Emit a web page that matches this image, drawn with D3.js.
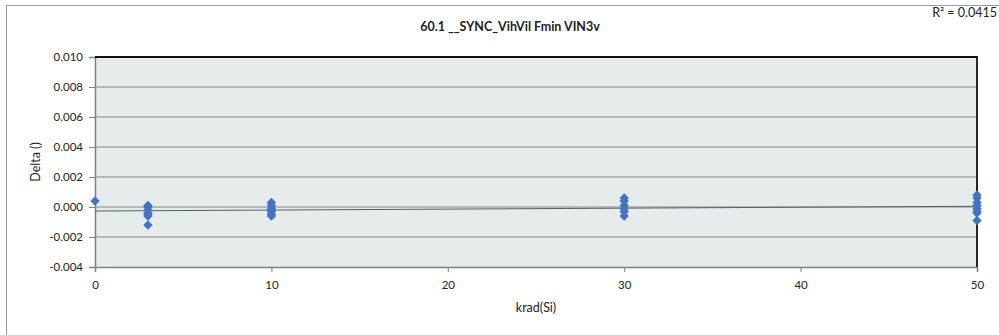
<!DOCTYPE html>
<html>
<head>
<meta charset="utf-8">
<script src="https://cdn.jsdelivr.net/npm/d3@7"></script>
<style>
  body { margin: 0; background: #fff; }
  svg text { font-family: "Lato", "Open Sans", sans-serif; fill: #222; }
</style>
</head>
<body>
<svg id="chart"></svg>
<script>
// 1) Data -----------------------------------------------------------
const doses = [0, 3, 10, 30, 50];
const deltas = [
  [0.0004],
  [0.0001, 0.0, -0.0002, -0.0004, -0.0005, -0.0006, -0.0012],
  [0.0003, 0.0001, -0.0001, -0.0002, -0.0003, -0.0005, -0.0006],
  [0.0006, 0.0004, 0.0001, -0.0001, -0.0003, -0.0006],
  [0.0008, 0.0006, 0.0003, 0.0001, -0.0001, -0.0003, -0.0004, -0.0009]
];
const xTicks = [0, 10, 20, 30, 40, 50];
const yTicks = [-0.004, -0.002, 0, 0.002, 0.004, 0.006, 0.008, 0.010];
const title = '60.1 __SYNC_VihVil Fmin VIN3v';
const rSquared = 'R² = 0.0415';

// 2) Dimensions -----------------------------------------------------
const width = 999;
const height = 335;
const margin = { top: 57, right: 22, bottom: 68, left: 95 };

const svg = d3.select('#chart')
  .attr('width', width)
  .attr('height', height);

const points = doses.flatMap((d, i) => deltas[i].map(v => ({ x: d, y: v })));

const x = d3.scaleLinear().domain([0, 50]).range([margin.left, width - margin.right]);
const y = d3.scaleLinear().domain([-0.004, 0.010]).range([height - margin.bottom, margin.top]);

// Excel-style labels use a plain hyphen for negatives
const fmtY = d => d3.format('.3f')(d).replace('−', '-');

// 3) Chart frame ----------------------------------------------------
svg.append('rect')
  .attr('x', 6.5).attr('y', 5.5)
  .attr('width', width + 10).attr('height', height + 10)
  .attr('fill', '#fff')
  .attr('stroke', '#9a9a9a')
  .attr('stroke-width', 1);

// 4) Plot area + grid ----------------------------------------------
svg.append('rect')
  .attr('x', x(0)).attr('y', y(0.010))
  .attr('width', x(50) - x(0)).attr('height', y(-0.004) - y(0.010))
  .attr('fill', '#e6ecec');

svg.append('g')
  .selectAll('line')
  .data(yTicks.slice(1, -1))
  .enter().append('line')
  .attr('x1', x(0)).attr('x2', x(50))
  .attr('y1', d => y(d)).attr('y2', d => y(d))
  .attr('stroke', '#a8a8a8')
  .attr('stroke-width', 1.3);

// 5) Axes -----------------------------------------------------------
const yAxis = svg.append('g')
  .attr('transform', `translate(${x(0)},0)`)
  .call(d3.axisLeft(y).tickValues(yTicks).tickFormat(fmtY).tickSize(6).tickPadding(6));
const xAxis = svg.append('g')
  .attr('transform', `translate(0,${y(-0.004)})`)
  .call(d3.axisBottom(x).tickValues(xTicks).tickSize(5).tickPadding(9));

[yAxis, xAxis].forEach(g => {
  g.select('.domain').attr('stroke', '#808080').attr('stroke-width', 1.5);
  g.selectAll('.tick line').attr('stroke', '#808080');
  g.selectAll('.tick text').attr('font-size', 11.5).attr('fill', '#222')
    .style('font-family', '"Lato", "Open Sans", sans-serif');
});

// top and right edges of the plot box
svg.append('path')
  .attr('d', `M${x(0)},${y(0.010)}H${x(50)}V${y(-0.004)}`)
  .attr('fill', 'none')
  .attr('stroke', '#111')
  .attr('stroke-width', 1.8);

// 6) Trend line (least squares) ------------------------------------
const mx = d3.mean(points, d => d.x);
const my = d3.mean(points, d => d.y);
const slope = d3.sum(points, d => (d.x - mx) * (d.y - my)) / d3.sum(points, d => (d.x - mx) ** 2);
const intercept = my - slope * mx;

svg.append('line')
  .attr('x1', x(0)).attr('y1', y(intercept))
  .attr('x2', x(50)).attr('y2', y(intercept + slope * 50))
  .attr('stroke', '#55606a')
  .attr('stroke-width', 1);

// 7) Points ---------------------------------------------------------
svg.append('g')
  .selectAll('path')
  .data(points)
  .enter().append('path')
  .attr('d', d3.symbol(d3.symbolDiamond2, 56))
  .attr('transform', d => `translate(${x(d.x)},${y(d.y)})`)
  .attr('fill', '#4472c4');

// 8) Labels ---------------------------------------------------------
svg.append('text')
  .attr('x', 510).attr('y', 31)
  .attr('text-anchor', 'middle')
  .attr('font-size', 12.5)
  .attr('font-weight', 'bold')
  .text(title);

svg.append('text')
  .attr('x', 997).attr('y', 17)
  .attr('text-anchor', 'end')
  .attr('font-size', 12.5)
  .text(rSquared);

svg.append('text')
  .attr('x', (x(0) + x(50)) / 2).attr('y', 312)
  .attr('text-anchor', 'middle')
  .attr('font-size', 12.5)
  .text('krad(Si)');

svg.append('text')
  .attr('transform', `translate(40,${(y(0.010) + y(-0.004)) / 2}) rotate(-90)`)
  .attr('text-anchor', 'middle')
  .attr('font-size', 12.5)
  .text('Delta ()');
</script>
</body>
</html>
